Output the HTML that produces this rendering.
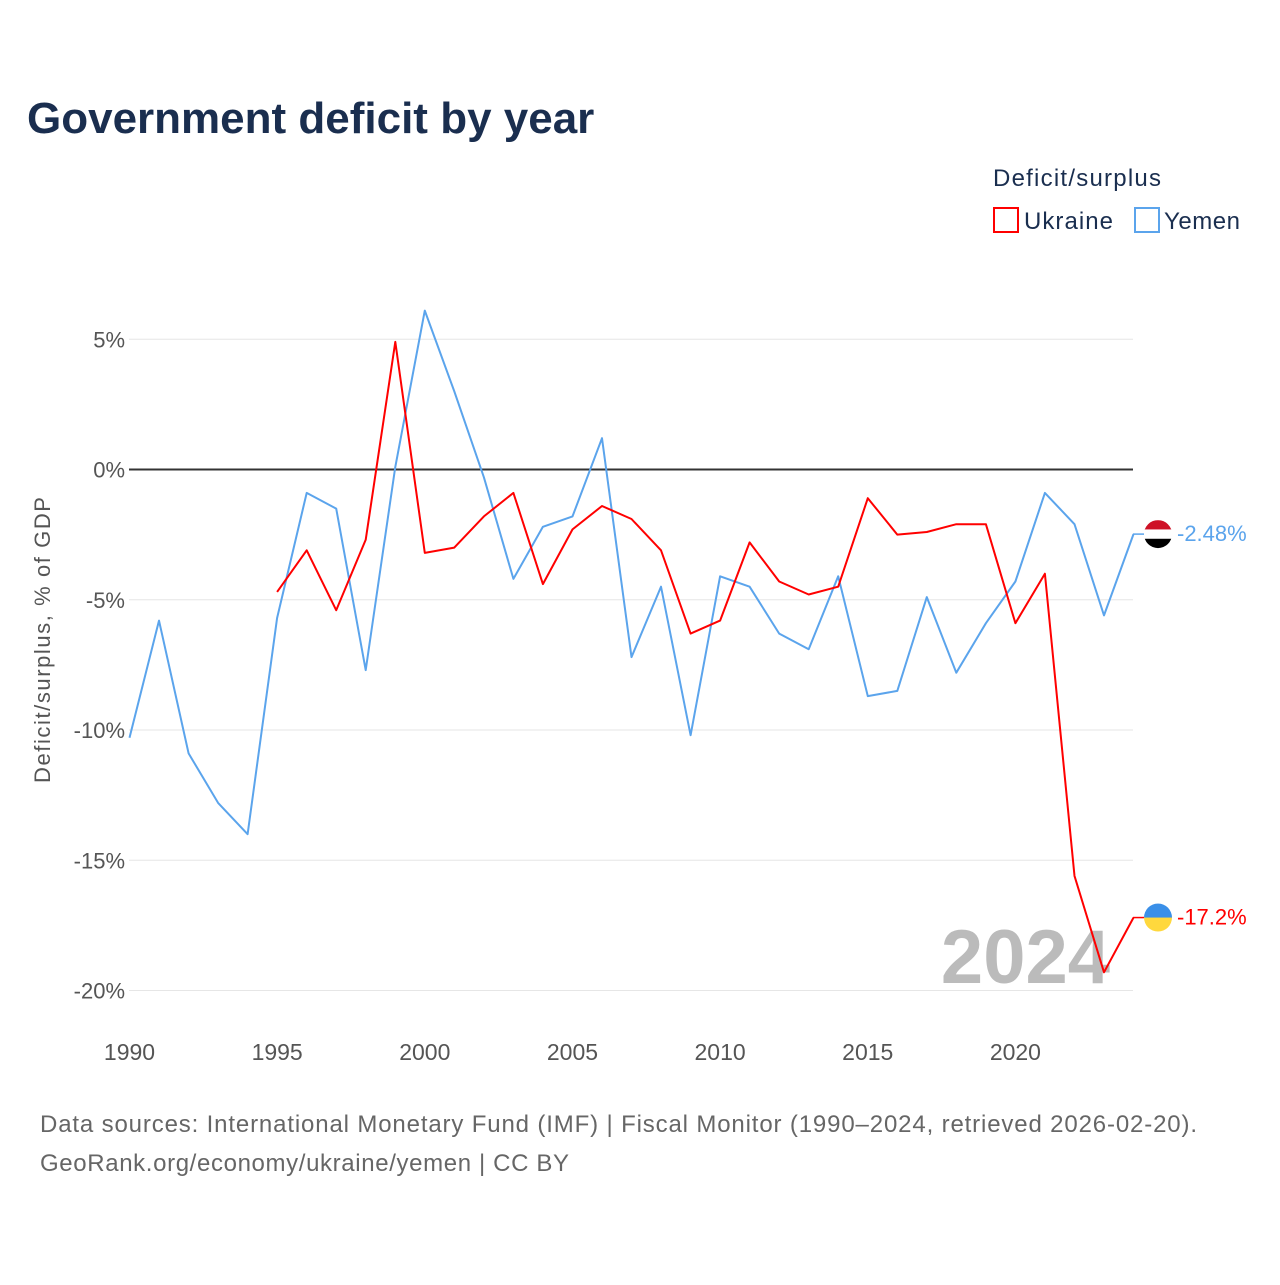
<!DOCTYPE html>
<html><head><meta charset="utf-8"><style>
body{margin:0;background:#fff;font-family:"Liberation Sans",sans-serif}
svg text{font-family:"Liberation Sans",sans-serif}
</style></head><body>
<svg id="c" width="1280" height="1280" viewBox="0 0 1280 1280">
<text x="27" y="133" font-size="44" font-weight="bold" fill="#1a2e4f">Government deficit by year</text>
<text x="993" y="186" font-size="24" fill="#1a2e4f" textLength="168">Deficit/surplus</text>
<g><rect x="994" y="208" width="24" height="24" fill="none" stroke="#f00" stroke-width="2"/><text x="1024" y="229" font-size="24" fill="#1a2e4f" textLength="89">Ukraine</text></g>
<g><rect x="1135" y="208" width="24" height="24" fill="none" stroke="#5ba4ec" stroke-width="2"/><text x="1164" y="229" font-size="24" fill="#1a2e4f" textLength="76">Yemen</text></g>
<text transform="translate(50,640) rotate(-90)" text-anchor="middle" font-size="22" fill="#555" textLength="286">Deficit/surplus, % of GDP</text>
<text x="1110" y="983" text-anchor="end" font-size="76" font-weight="bold" fill="#bbb">2024</text>
<g id="grid"></g><g id="marks"></g>
<text x="40" y="1132" font-size="24" fill="#666" textLength="1157">Data sources: International Monetary Fund (IMF) | Fiscal Monitor (1990–2024, retrieved 2026-02-20).</text>
<text x="40" y="1171" font-size="24" fill="#666" textLength="529">GeoRank.org/economy/ukraine/yemen | CC BY</text>
</svg>
<script>
const years=[];for(let y=1990;y<=2024;y++)years.push(y);
const yemen=[-10.3,-5.8,-10.9,-12.8,-14.0,-5.7,-0.9,-1.5,-7.7,0.1,6.1,3.0,-0.3,-4.2,-2.2,-1.8,1.2,-7.2,-4.5,-10.2,-4.1,-4.5,-6.3,-6.9,-4.1,-8.7,-8.5,-4.9,-7.8,-5.9,-4.3,-0.9,-2.1,-5.6,-2.48];
const ukraine=[null,null,null,null,null,-4.7,-3.1,-5.4,-2.7,4.9,-3.2,-3.0,-1.8,-0.9,-4.4,-2.3,-1.4,-1.9,-3.1,-6.3,-5.8,-2.8,-4.3,-4.8,-4.5,-1.1,-2.5,-2.4,-2.1,-2.1,-5.9,-4.0,-15.6,-19.3,-17.2];
const yTicks=[5,0,-5,-10,-15,-20];
const xTicks=[1990,1995,2000,2005,2010,2015,2020];
const NS="http://www.w3.org/2000/svg";
const X=y=>129.5+(y-1990)*29.53, Y=v=>469.5-v*26.05;
function mk(t,a,p){const e=document.createElementNS(NS,t);for(const k in a)e.setAttribute(k,a[k]);p.appendChild(e);return e;}
const g=document.getElementById('grid'),m=document.getElementById('marks');
yTicks.forEach(v=>{
 const l=mk('line',{x1:129,x2:1133,y1:Y(v),y2:Y(v),stroke:v===0?'#333':'#e6e6e6','stroke-width':v===0?2:1},g);
 
 
 const t=mk('text',{x:125,y:Y(v)+8,'text-anchor':'end','font-size':22,fill:'#555'},g);t.textContent=v+'%';
 
 
});
xTicks.forEach(y=>{
 const t=mk('text',{x:X(y),y:1060,'text-anchor':'middle','font-size':23,fill:'#555'},g);t.textContent=y;
 
 
});
function line(data,col,name){
 const pts=[];data.forEach((v,i)=>{if(v!==null)pts.push(X(years[i]).toFixed(1)+','+Y(v).toFixed(1));});
 const p=mk('polyline',{points:pts.join(' '),fill:'none',stroke:col,'stroke-width':2,'stroke-linejoin':'round'},m);
 
 
}
line(yemen,'#5ba4ec','yemen-line');line(ukraine,'#f00','ukraine-line');
function end(v,col,name,colors){
 const y=Y(v);
 mk('line',{x1:1133,x2:1144,y1:y,y2:y,stroke:col,'stroke-width':1.5},m);
 const d=document.createElementNS(NS,'defs');m.appendChild(d);
 const cp=mk('clipPath',{id:'cp'+name},d);mk('circle',{cx:1158,cy:y,r:14},cp);
 const fg=mk('g',{'clip-path':'url(#cp'+name+')'},m);
 
 
 const h=28/colors.length;colors.forEach((c,i)=>mk('rect',{x:1144,y:y-14+i*h,width:28,height:h+0.5,fill:c},fg));
 const t=mk('text',{x:1177,y:y+7,'font-size':22,fill:col},m);t.textContent=(name==='ukraine'?v.toFixed(1):v.toFixed(2))+'%';
 
 
}
end(yemen[yemen.length-1],'#5ba4ec','yemen',['#ce1126','#fff','#000']);
end(ukraine[ukraine.length-1],'#f00','ukraine',['#3a8fe8','#ffd83d']);
</script>
</body></html>
